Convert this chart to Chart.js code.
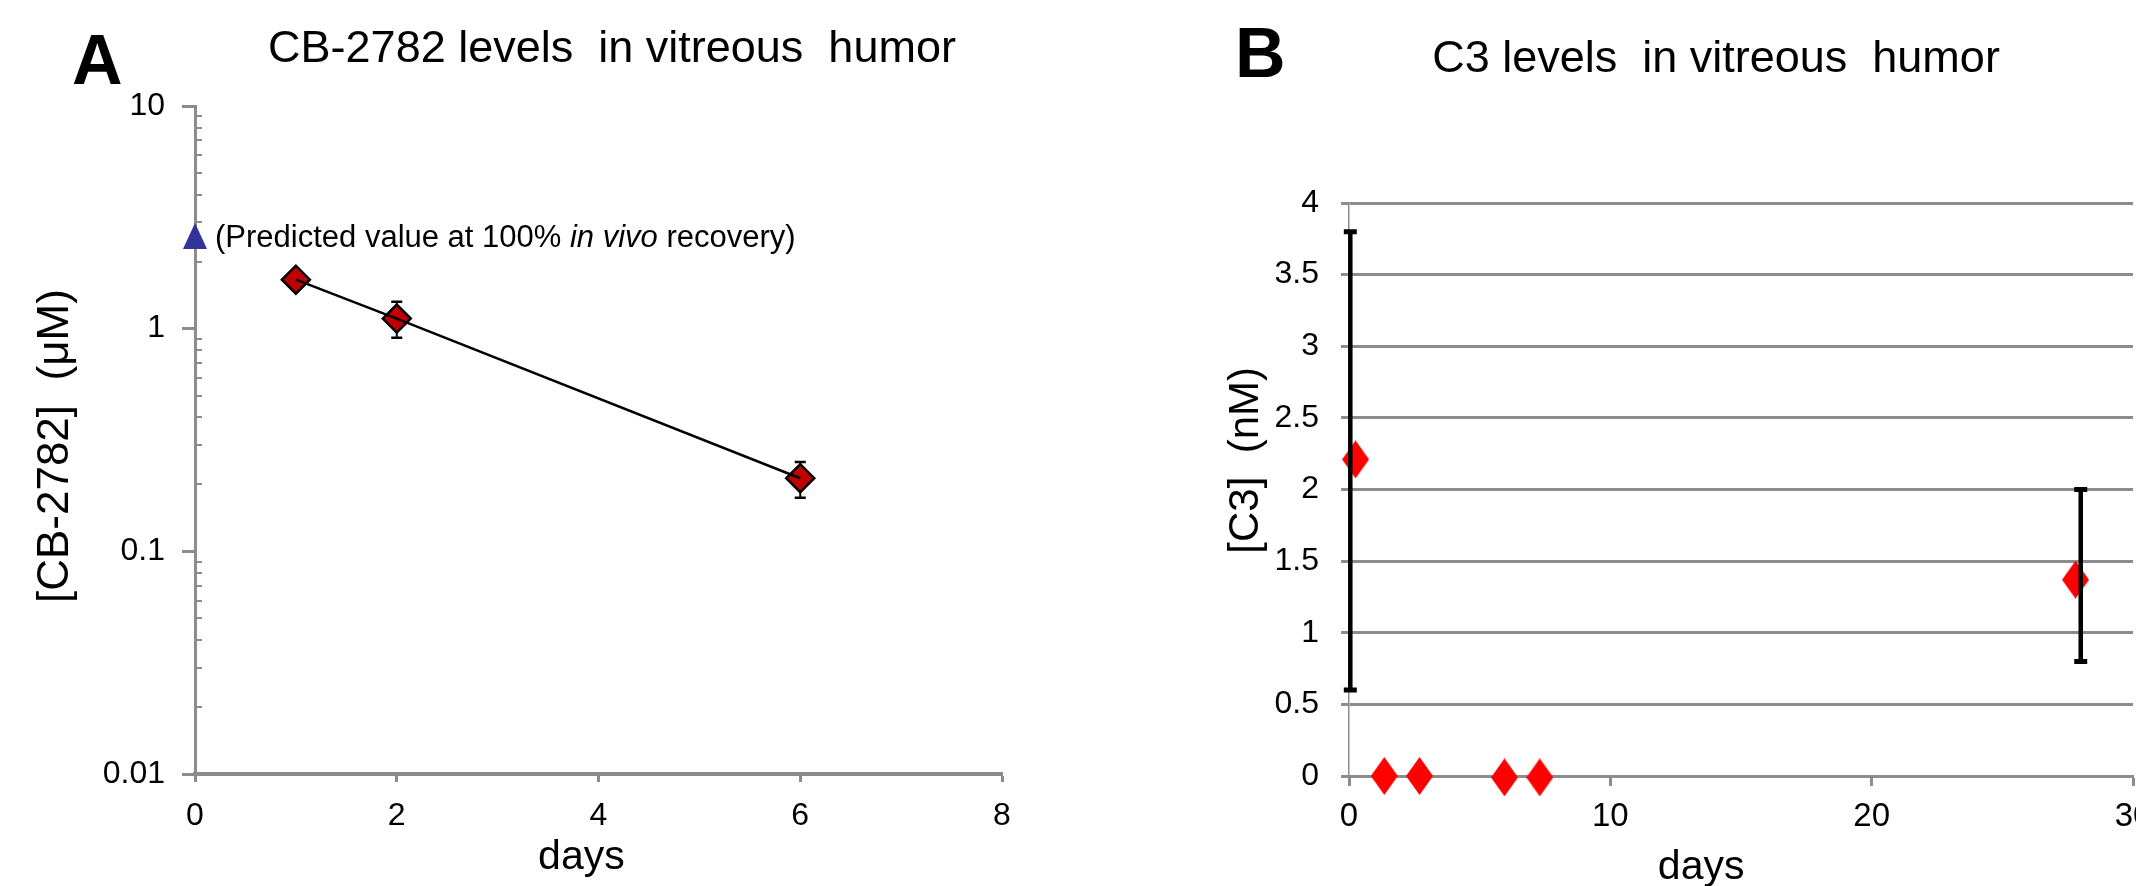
<!DOCTYPE html>
<html>
<head>
<meta charset="utf-8">
<title>CB-2782 and C3 levels in vitreous humor</title>
<script src="https://cdn.jsdelivr.net/npm/chart.js@4.4.1/dist/chart.umd.min.js"></script>
<style>
    html, body { margin: 0; padding: 0; background: #fff; overflow: hidden; }
    body { width: 2136px; height: 886px; position: relative; }
    #chartA { position: absolute; left: 0; top: 0; }
    #chartB { position: absolute; left: 1068px; top: 0; }
</style>
</head>
<body>
<canvas id="chartA" width="1068" height="886"></canvas>
<canvas id="chartB" width="1132" height="886"></canvas>
<script>
// panel A - CB-2782 (log scale)
var daysA = [1, 2, 6];
var concA = [1.66, 1.11, 0.213];
var concLowA = [null, 0.91, 0.174];
var concHighA = [null, 1.32, 0.252];
var predictedDay = [0];
var predictedConc = [2.61];
var xTicksA = [0, 2, 4, 6, 8];
var yTicksA = [0.01, 0.1, 1, 10];
var yTickLabelsA = ['0.01', '0.1', '1', '10'];

// panel B - C3
var daysB = [0.25, 1.35, 2.7, 5.95, 7.3, 27.8];
var c3 = [2.21, 0, 0, -0.01, -0.01, 1.37];
var errDaysB = [0.05, 28];
var errLowB = [0.6, 0.8];
var errHighB = [3.8, 2.0];
var xTicksB = [0, 10, 20, 30];
var yTicksB = [0, 0.5, 1, 1.5, 2, 2.5, 3, 3.5, 4];
var yTickLabelsB = ['0', '0.5', '1', '1.5', '2', '2.5', '3', '3.5', '4'];

var FONT = '"Liberation Sans", Arial, sans-serif';
var GREY = '#8c8c8c';
Chart.defaults.font.family = FONT;
Chart.defaults.color = '#000';

function points(xs, ys) {
    return xs.map(function (x, i) { return { x: x, y: ys[i] }; });
}

function markerImage(w, h, color, shape) {
    var c = document.createElement('canvas');
    c.width = w;
    c.height = h;
    var g = c.getContext('2d');
    g.fillStyle = color;
    g.beginPath();
    if (shape == 'triangle') {
        g.moveTo(w / 2, 0);
        g.lineTo(w, h);
        g.lineTo(0, h);
    } else {
        g.moveTo(w / 2, 0);
        g.lineTo(w, h / 2);
        g.lineTo(w / 2, h);
        g.lineTo(0, h / 2);
    }
    g.closePath();
    g.fill();
    return c;
}

function errorBars(xs, lows, highs, style) {
    function draw(chart) {
        var ctx = chart.ctx, sx = chart.scales.x, sy = chart.scales.y;
        ctx.save();
        ctx.strokeStyle = '#000';
        for (var i = 0; i < xs.length; i++) {
            if (lows[i] == null) continue;
            var px = sx.getPixelForValue(xs[i]);
            var top = sy.getPixelForValue(highs[i]);
            var bottom = sy.getPixelForValue(lows[i]);
            ctx.lineWidth = style.width;
            ctx.beginPath();
            ctx.moveTo(px, top);
            ctx.lineTo(px, bottom);
            ctx.stroke();
            ctx.lineWidth = style.capWidth;
            ctx.beginPath();
            ctx.moveTo(px - style.cap / 2, top);
            ctx.lineTo(px + style.cap / 2, top);
            ctx.moveTo(px - style.cap / 2, bottom);
            ctx.lineTo(px + style.cap / 2, bottom);
            ctx.stroke();
        }
        ctx.restore();
    }
    return {
        id: 'errorBars',
        beforeDatasetsDraw: function (chart) { if (!style.onTop) draw(chart); },
        afterDatasetsDraw: function (chart) { if (style.onTop) draw(chart); }
    };
}

function heading(letter, lx, ly, title, tx, ty) {
    return {
        id: 'heading',
        afterDraw: function (chart) {
            var ctx = chart.ctx;
            ctx.save();
            ctx.fillStyle = '#000';
            ctx.textBaseline = 'alphabetic';
            ctx.textAlign = 'left';
            ctx.font = 'bold 70px ' + FONT;
            ctx.fillText(letter, lx, ly);
            ctx.textAlign = 'center';
            ctx.font = '45px ' + FONT;
            ctx.fillText(title, tx, ty);
            ctx.restore();
        }
    };
}

// small inward ticks between the decades of the log axis
var minorTicks = {
    id: 'minorTicks',
    afterDraw: function (chart) {
        var sy = chart.scales.y, ctx = chart.ctx, left = chart.chartArea.left;
        ctx.save();
        ctx.strokeStyle = GREY;
        ctx.lineWidth = 2;
        ctx.beginPath();
        for (var d = 0; d < yTicksA.length - 1; d++) {
            for (var k = 2; k <= 9; k++) {
                var py = Math.round(sy.getPixelForValue(k * yTicksA[d]));
                ctx.moveTo(left, py);
                ctx.lineTo(left + 7, py);
            }
        }
        ctx.stroke();
        ctx.restore();
    }
};

var noteParts = [
    { text: '(Predicted value at 100% ' },
    { text: 'in vivo', italic: true },
    { text: ' recovery)' }
];

var predictedNote = {
    id: 'predictedNote',
    afterDatasetsDraw: function (chart) {
        var pt = chart.getDatasetMeta(2).data[0];
        var ctx = chart.ctx;
        var x = pt.x + 20, y = pt.y + 11;
        ctx.save();
        ctx.fillStyle = '#000';
        ctx.textAlign = 'left';
        ctx.textBaseline = 'alphabetic';
        noteParts.forEach(function (p) {
            ctx.font = (p.italic ? 'italic ' : '') + '31px ' + FONT;
            ctx.fillText(p.text, x, y);
            x += ctx.measureText(p.text).width;
        });
        ctx.restore();
    }
};

new Chart(document.getElementById('chartA'), {
    type: 'scatter',
    data: {
        datasets: [{
            label: 'trend',
            data: points(daysA, concA),
            showLine: true,
            borderColor: '#000',
            borderWidth: 2.5,
            pointRadius: 0,
            clip: false,
            order: 0
        }, {
            label: 'CB-2782',
            data: points(daysA, concA),
            pointStyle: 'rectRot',
            pointRadius: 14,
            backgroundColor: '#c00000',
            borderColor: '#000',
            borderWidth: 2.5,
            clip: false,
            order: 1
        }, {
            label: 'predicted',
            data: points(predictedDay, predictedConc),
            pointStyle: markerImage(24, 26, '#333399', 'triangle'),
            pointRadius: 12,
            clip: false,
            order: 2
        }]
    },
    options: {
        responsive: false,
        animation: false,
        layout: { padding: { top: 106, right: 66, left: 0, bottom: 0 } },
        plugins: { legend: { display: false }, tooltip: { enabled: false } },
        scales: {
            x: {
                type: 'linear', min: 0, max: 8,
                afterBuildTicks: function (s) { s.ticks = xTicksA.map(function (v) { return { value: v }; }); },
                afterFit: function (s) { s.height = 112; },
                grid: { drawOnChartArea: false, tickLength: 8, tickColor: GREY, tickWidth: 3 },
                border: { color: GREY, width: 4 },
                ticks: { font: { size: 32 }, padding: 15, maxRotation: 0 },
                title: { display: true, text: 'days   ', font: { size: 41 }, padding: { top: 0, bottom: 4 } }
            },
            y: {
                type: 'logarithmic', min: 0.01, max: 10,
                afterBuildTicks: function (s) { s.ticks = yTicksA.map(function (v) { return { value: v }; }); },
                afterFit: function (s) { s.width = 195; },
                grid: { drawOnChartArea: false, tickLength: 13, tickColor: GREY, tickWidth: 3 },
                border: { color: GREY, width: 3 },
                ticks: {
                    font: { size: 32 }, padding: 17,
                    callback: function (v, i) { return yTickLabelsA[i]; }
                },
                title: { display: true, text: '[CB-2782]  (μM) ', font: { size: 44 }, padding: { top: 29, bottom: 0 } }
            }
        }
    },
    plugins: [
        errorBars(daysA, concLowA, concHighA, { width: 2, cap: 11, capWidth: 2.5, onTop: false }),
        minorTicks,
        predictedNote,
        heading('A', 72, 84, 'CB-2782 levels  in vitreous  humor', 612, 62)
    ]
});

new Chart(document.getElementById('chartB'), {
    type: 'scatter',
    data: {
        datasets: [{
            label: 'C3',
            data: points(daysB, c3),
            pointStyle: markerImage(27, 38, '#ff0000', 'diamond'),
            pointRadius: 12,
            clip: false
        }]
    },
    options: {
        responsive: false,
        animation: false,
        layout: { padding: { top: 203, right: 67, left: 0, bottom: 0 } },
        plugins: { legend: { display: false }, tooltip: { enabled: false } },
        scales: {
            x: {
                type: 'linear', min: 0, max: 30,
                afterBuildTicks: function (s) { s.ticks = xTicksB.map(function (v) { return { value: v }; }); },
                afterFit: function (s) { s.height = 110; },
                grid: { drawOnChartArea: false, tickLength: 10, tickColor: GREY, tickWidth: 3 },
                border: { color: GREY, width: 3 },
                ticks: { font: { size: 33 }, padding: 11, maxRotation: 0 },
                title: { display: true, text: 'days       ', font: { size: 41 }, padding: { top: 0, bottom: -6 } }
            },
            y: {
                type: 'linear', min: 0, max: 4,
                afterBuildTicks: function (s) { s.ticks = yTicksB.map(function (v) { return { value: v }; }); },
                afterFit: function (s) { s.width = 281; },
                grid: { color: GREY, lineWidth: 3, tickLength: 8, tickColor: GREY, tickWidth: 3 },
                border: { color: GREY, width: 1.5 },
                ticks: {
                    font: { size: 32 }, padding: 22,
                    callback: function (v, i) { return yTickLabelsB[i]; }
                },
                title: { display: true, text: '     [C3]  (nM)', font: { size: 42 }, padding: { top: 153, bottom: 0 } }
            }
        }
    },
    plugins: [
        errorBars(errDaysB, errLowB, errHighB, { width: 4.5, cap: 13, capWidth: 5, onTop: true }),
        heading('B', 167, 77, 'C3 levels  in vitreous  humor', 648, 72)
    ]
});
</script>
</body>
</html>
